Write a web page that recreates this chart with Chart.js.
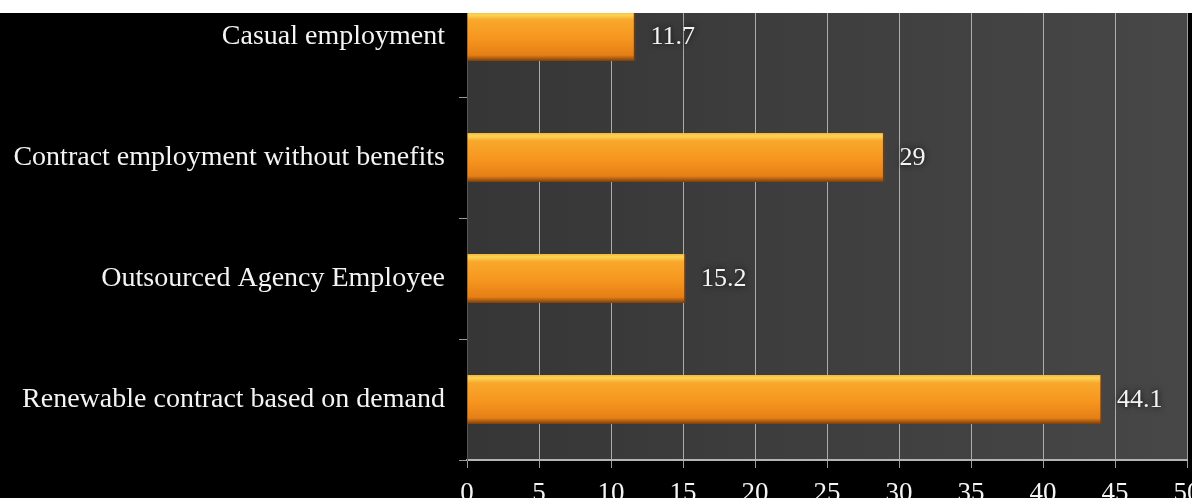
<!DOCTYPE html>
<html>
<head>
<meta charset="utf-8">
<script src="https://cdn.jsdelivr.net/npm/chart.js@4/dist/chart.umd.min.js"></script>
<style>
  html, body { margin: 0; padding: 0; background: #fff; width: 1192px; height: 498px; overflow: hidden; }
  #wrap { position: absolute; left: 0; top: 13px; width: 1192px; height: 485px; overflow: hidden; background: #000; }
  #chart { position: absolute; left: 0; top: -37px; }
</style>
</head>
<body>
<div id="wrap"><canvas id="chart" width="1220" height="544"></canvas></div>
<script>
// data
const categories = [
  "Casual employment",
  "Contract employment without benefits",
  "Outsourced Agency Employee",
  "Renewable contract based on demand",
];
const values = [11.7, 29, 15.2, 44.1];
const valueLabels = ["11.7", "29", "15.2", "44.1"];
const xTicks = [0, 5, 10, 15, 20, 25, 30, 35, 40, 45, 50];

const BAR = 49;
const serif = "'Liberation Serif', 'Times New Roman', serif";

// dark grey plot background
const plotBg = {
  id: "plotBg",
  beforeDraw(chart) {
    const { ctx, chartArea: a } = chart;
    const g = ctx.createLinearGradient(a.left, 0, a.right, 0);
    g.addColorStop(0, "#363636");
    g.addColorStop(1, "#474747");
    ctx.save();
    ctx.fillStyle = g;
    ctx.fillRect(a.left, a.top, a.right - a.left, a.bottom - a.top);
    ctx.restore();
  },
};

// value labels to the right of each bar
const valueText = {
  id: "valueText",
  afterDatasetsDraw(chart) {
    const { ctx } = chart;
    const meta = chart.getDatasetMeta(0);
    ctx.save();
    ctx.font = "26px " + serif;
    ctx.textBaseline = "middle";
    ctx.textAlign = "left";
    ctx.fillStyle = "#f4f4f4";
    ctx.shadowColor = "rgba(0,0,0,0.9)";
    ctx.shadowBlur = 6;
    meta.data.forEach((bar, i) => {
      ctx.fillText(valueLabels[i], bar.x + 15, bar.y + 1);
    });
    ctx.restore();
  },
};

function barFill(context) {
  const chart = context.chart;
  if (!chart.chartArea || !chart.scales.y) return "#f39020";
  const y = chart.scales.y.getPixelForValue(context.dataIndex);
  const g = chart.ctx.createLinearGradient(0, y - BAR / 2, 0, y + BAR / 2);
  g.addColorStop(0, "#f6b53a");
  g.addColorStop(0.06, "#fbd556");
  g.addColorStop(0.16, "#f9a82c");
  g.addColorStop(0.55, "#f6951f");
  g.addColorStop(0.88, "#e57f16");
  g.addColorStop(1, "#7a3e0c");
  return g;
}

new Chart(document.getElementById("chart"), {
  type: "bar",
  data: {
    labels: categories,
    datasets: [{
      data: values,
      backgroundColor: barFill,
      borderColor: "rgba(120,60,10,0.8)",
      borderWidth: { right: 2, top: 0, bottom: 0, left: 0 },
      barThickness: BAR,
    }],
  },
  options: {
    indexAxis: "y",
    responsive: false,
    animation: false,
    devicePixelRatio: 1,
    layout: { padding: { top: 0, right: 33, bottom: 0, left: 0 } },
    plugins: { legend: { display: false }, tooltip: { enabled: false } },
    scales: {
      x: {
        min: 0,
        max: 50,
        afterBuildTicks(scale) {
          scale.ticks = xTicks.map((v) => ({ value: v }));
        },
        afterFit(scale) {
          scale.height = 60;
          scale.paddingLeft = 0;
          scale.paddingRight = 0;
        },
        grid: {
          color: "rgba(210,210,210,0.75)",
          lineWidth: 1,
          tickLength: 8,
        },
        border: { color: "#b4b4b4", width: 2 },
        ticks: {
          color: "#f4f4f4",
          font: { family: serif, size: 27 },
          padding: 10,
          maxRotation: 0,
        },
      },
      y: {
        afterFit(scale) {
          scale.width = 467;
          scale.paddingTop = 0;
          scale.paddingBottom = 0;
        },
        grid: {
          offset: true,
          drawOnChartArea: false,
          tickLength: 8,
          color: "#9a9a9a",
        },
        border: { color: "#555", width: 1 },
        ticks: {
          color: "#f4f4f4",
          font: { family: serif, size: 28 },
          padding: 14,
        },
      },
    },
  },
  plugins: [plotBg, valueText],
});
</script>
</body>
</html>
